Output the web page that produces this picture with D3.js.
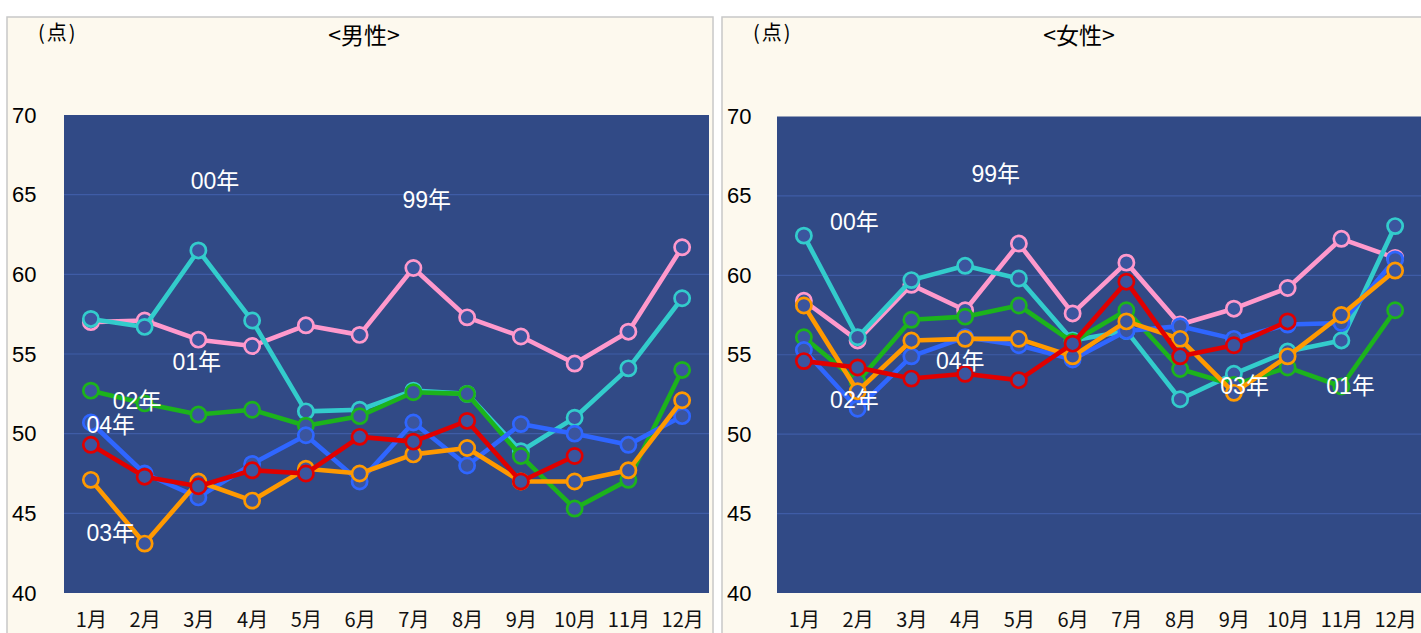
<!DOCTYPE html>
<html>
<head>
<meta charset="utf-8">
<script src="https://d3js.org/d3.v7.min.js"></script>
<style>
  body { margin: 0; background: #fff; }
</style>
</head>
<body>
<svg id="chart"></svg>
<script>
  // months and ticks
  var months = [1,2,3,4,5,6,7,8,9,10,11,12];
  var yTicks = [40,45,50,55,60,65,70];

  // 男性
  var malePink   = [57.0,57.1,55.9,55.5,56.8,56.2,60.4,57.3,56.1,54.4,56.4,61.7];
  var maleCyan   = [57.2,56.7,61.5,57.1,51.4,51.5,52.7,52.5,48.9,51.0,54.1,58.5];
  var maleGreen  = [52.7,51.9,51.2,51.5,50.5,51.1,52.6,52.5,48.6,45.3,47.1,54.0];
  var maleBlue   = [50.7,47.5,46.0,48.1,49.9,47.0,50.7,48.0,50.6,50.0,49.3,51.1];
  var maleOrange = [47.1,43.1,47.0,45.8,47.8,47.5,48.7,49.1,47.0,47.0,47.7,52.1];
  var maleRed    = [49.3,47.3,46.7,47.7,47.5,49.8,49.5,50.8,47.0,48.6];

  // 女性
  var femalePink   = [58.4,55.9,59.4,57.8,62.0,57.6,60.8,56.9,57.9,59.2,62.3,61.1];
  var femaleCyan   = [62.5,56.1,59.7,60.6,59.8,55.9,56.5,52.2,53.8,55.2,55.9,63.1];
  var femaleGreen  = [56.1,53.3,57.2,57.4,58.1,55.8,57.8,54.1,53.1,54.2,53.0,57.8];
  var femaleBlue   = [55.3,51.6,54.9,56.1,55.6,54.7,56.5,56.8,56.0,56.9,57.0,61.0];
  var femaleOrange = [58.1,52.7,55.9,56.0,56.0,54.9,57.1,56.0,52.6,54.9,57.5,60.3];
  var femaleRed    = [54.6,54.2,53.5,53.8,53.4,55.7,59.6,54.9,55.6,57.1];

  // year labels inside the plot (month position, value)
  var maleLabelText  = ["00年","99年","01年","02年","04年","03年"];
  var maleLabelMonth = [3.31, 7.25, 2.97, 1.86, 1.37, 1.37];
  var maleLabelValue = [65.9, 64.7, 54.5, 52.05, 50.55, 43.8];

  var femaleLabelText  = ["99年","00年","04年","02年","03年","01年"];
  var femaleLabelMonth = [4.57, 1.94, 3.91, 1.94, 9.2, 11.17];
  var femaleLabelValue = [66.4, 63.4, 54.65, 52.2, 53.05, 53.05];

  var colors = { pink: '#ff99cc', cyan: '#33cccc', green: '#1cb31c', blue: '#2f66ff', orange: '#ff9900', red: '#e00000' };

  var W = 1421, H = 633;
  var svg = d3.select('#chart').attr('width', W).attr('height', H);

  function drawPanel(left, plotLeft, plotTop, title, series, labelText, labelMonth, labelValue) {
    var g = svg.append('g');
    g.append('rect')
      .attr('x', left).attr('y', 17)
      .attr('width', 706).attr('height', 640)
      .attr('fill', '#fdf9ee').attr('stroke', '#c8c8c8').attr('stroke-width', 1.5);

    var plotRight = plotLeft + 645;
    var x = d3.scaleLinear().domain([0.5, 12.5]).range([plotLeft, plotRight]);
    var y = d3.scaleLinear().domain([40, 70]).range([593, plotTop]);

    g.append('rect')
      .attr('x', plotLeft).attr('y', y(70))
      .attr('width', plotRight - plotLeft).attr('height', y(40) - y(70))
      .attr('fill', '#314a86');

    g.selectAll('.grid')
      .data(yTicks.filter(function(d) { return d > 40 && d < 70; }))
      .enter().append('line')
      .attr('x1', plotLeft).attr('x2', plotRight)
      .attr('y1', function(d) { return y(d); }).attr('y2', function(d) { return y(d); })
      .attr('stroke', '#3f5ca6').attr('stroke-width', 1.2);

    // y axis labels
    var yAxis = g.append('g')
      .attr('transform', 'translate(' + plotLeft + ',0)')
      .call(d3.axisLeft(y).tickValues(yTicks).tickSize(0));
    yAxis.select('.domain').remove();
    yAxis.selectAll('text')
      .attr('x', left + 5 - plotLeft)
      .attr('text-anchor', 'start')
      .attr('font-family', 'Liberation Sans, Arial, sans-serif')
      .attr('font-size', '22px')
      .attr('fill', '#000');

    // x axis labels
    var xAxis = g.append('g')
      .attr('transform', 'translate(0,593)')
      .call(d3.axisBottom(x).tickValues(months).tickSize(0).tickFormat(function(d) { return d + '月'; }));
    xAxis.select('.domain').remove();
    xAxis.selectAll('text')
      .attr('y', 34)
      .attr('dy', 0)
      .attr('font-family', 'Noto Sans CJK JP, sans-serif')
      .attr('font-size', '20px')
      .attr('fill', '#111')
      .attr('text-anchor', 'middle');

    // titles
    g.append('text')
      .attr('x', left + 357).attr('y', 44)
      .attr('text-anchor', 'middle')
      .attr('font-family', 'Noto Sans CJK JP, sans-serif')
      .attr('font-size', '23px')
      .text(title);
    g.append('text')
      .attr('x', left + 31).attr('y', 40)
      .attr('font-family', 'Noto Sans CJK JP, sans-serif')
      .attr('font-size', '20px')
      .attr('letter-spacing', '2px')
      .text('(点)');

    var line = d3.line()
      .x(function(d, i) { return x(months[i]); })
      .y(function(d) { return y(d); });

    series.forEach(function(s) {
      g.append('path')
        .attr('d', line(s.values))
        .attr('fill', 'none')
        .attr('stroke', s.color)
        .attr('stroke-width', 4.6)
        .attr('stroke-linejoin', 'round');
      g.selectAll(null)
        .data(s.values)
        .enter().append('circle')
        .attr('cx', function(d, i) { return x(months[i]); })
        .attr('cy', function(d) { return y(d); })
        .attr('r', 7.6)
        .attr('fill', '#3b559e')
        .attr('stroke', s.color)
        .attr('stroke-width', 2.7);
    });

    g.selectAll(null)
      .data(labelText)
      .enter().append('text')
      .attr('x', function(d, i) { return x(labelMonth[i]); })
      .attr('y', function(d, i) { return y(labelValue[i]); })
      .attr('dy', '0.36em')
      .attr('text-anchor', 'middle')
      .attr('font-family', 'Liberation Sans, Noto Sans CJK JP, sans-serif')
      .attr('font-size', '23px')
      .attr('fill', '#fff')
      .text(function(d) { return d; });
  }

  drawPanel(7, 64, 115, '<男性>', [
    { color: colors.pink, values: malePink },
    { color: colors.cyan, values: maleCyan },
    { color: colors.green, values: maleGreen },
    { color: colors.blue, values: maleBlue },
    { color: colors.orange, values: maleOrange },
    { color: colors.red, values: maleRed }
  ], maleLabelText, maleLabelMonth, maleLabelValue);

  drawPanel(722, 777, 116.5, '<女性>', [
    { color: colors.pink, values: femalePink },
    { color: colors.cyan, values: femaleCyan },
    { color: colors.green, values: femaleGreen },
    { color: colors.blue, values: femaleBlue },
    { color: colors.orange, values: femaleOrange },
    { color: colors.red, values: femaleRed }
  ], femaleLabelText, femaleLabelMonth, femaleLabelValue);
</script>
</body>
</html>
